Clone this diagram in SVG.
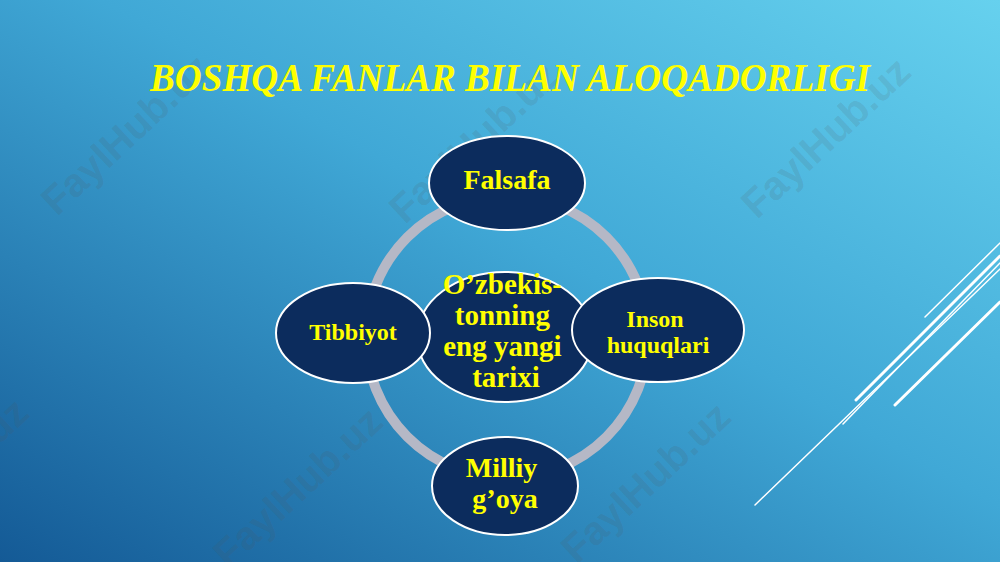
<svg xmlns="http://www.w3.org/2000/svg" width="1000" height="562" viewBox="0 0 1000 562">
  <defs>
    <linearGradient id="bg" x1="1" y1="0" x2="0" y2="1">
      <stop offset="0" stop-color="#66d1ee"/>
      <stop offset="0.45" stop-color="#40a8d6"/>
      <stop offset="1" stop-color="#145a96"/>
    </linearGradient>
    <style>
      .node { fill: #0c2c5d; stroke: #ffffff; stroke-width: 2; }
      .lbl { font-family: "Liberation Serif", "Times New Roman", serif; font-weight: bold; fill: #ffff00; text-anchor: middle; }
      .wm { font-family: "Liberation Sans", Arial, sans-serif; font-weight: bold; font-size: 40px; fill: #555555; fill-opacity: 0.15; }
      .deco { stroke: #ffffff; stroke-linecap: round; fill: none; }
    </style>
  </defs>

  <rect x="0" y="0" width="1000" height="562" fill="url(#bg)"/>

  <!-- watermarks -->
  <g id="watermarks">
    <text class="wm" transform="translate(57,217) rotate(-43)">FaylHub.uz</text>
    <text class="wm" transform="translate(405,225) rotate(-43)">FaylHub.uz</text>
    <text class="wm" transform="translate(757,220) rotate(-43)">FaylHub.uz</text>
    <text class="wm" transform="translate(577,565) rotate(-43)">FaylHub.uz</text>
    <text class="wm" transform="translate(229,570) rotate(-43)">FaylHub.uz</text>
    <text class="wm" transform="translate(-125,561) rotate(-43)">FaylHub.uz</text>
  </g>

  <!-- decorative lines -->
  <g id="deco-lines">
    <line class="deco" x1="925" y1="317" x2="1000" y2="243" stroke-width="1.5" stroke="#d8f2fb"/>
    <line class="deco" x1="856" y1="400" x2="1000" y2="256" stroke-width="3"/>
    <line class="deco" x1="843" y1="424" x2="1000" y2="263" stroke-width="1.5" stroke="#d8f2fb"/>
    <line class="deco" x1="755" y1="505" x2="1000" y2="269" stroke-width="1.5" stroke="#d8f2fb"/>
    <line class="deco" x1="895" y1="405" x2="1000" y2="302" stroke-width="3"/>
  </g>

  <!-- title -->
  <text id="title" x="150" y="91" font-family="'Liberation Serif', 'Times New Roman', serif" font-weight="bold" font-style="italic" font-size="40" fill="#ffff00" textLength="720" lengthAdjust="spacingAndGlyphs">BOSHQA FANLAR BILAN ALOQADORLIGI</text>

  <!-- connectors -->
  <g id="connectors">
    <circle cx="507" cy="337" r="141" fill="none" stroke="#b5b8c6" stroke-width="10"/>
  </g>

  <g id="node-falsafa">
    <ellipse class="node" cx="507" cy="183" rx="78" ry="47"/>
    <text class="lbl" x="507" y="189" font-size="28">Falsafa</text>
  </g>

  <g id="node-center">
    <ellipse class="node" cx="505" cy="337" rx="88" ry="65"/>
    <text class="lbl" font-size="29">
      <tspan x="506" y="294">O’zbekis-</tspan>
      <tspan x="506" y="325">tonning</tspan>
      <tspan x="506" y="356">eng yangi</tspan>
      <tspan x="506" y="387">tarixi</tspan>
    </text>
  </g>

  <g id="node-tibbiyot">
    <ellipse class="node" cx="353" cy="333" rx="77" ry="50"/>
    <text class="lbl" x="353" y="340" font-size="24">Tibbiyot</text>
  </g>

  <g id="node-inson">
    <ellipse class="node" cx="658" cy="330" rx="86" ry="52"/>
    <text class="lbl" font-size="24">
      <tspan x="658" y="327">Inson</tspan>
      <tspan x="658" y="353">huquqlari</tspan>
    </text>
  </g>

  <g id="node-milliy">
    <ellipse class="node" cx="505" cy="486" rx="73" ry="49"/>
    <text class="lbl" font-size="28">
      <tspan x="505" y="477">Milliy</tspan>
      <tspan x="505" y="508">g’oya</tspan>
    </text>
  </g>
</svg>
